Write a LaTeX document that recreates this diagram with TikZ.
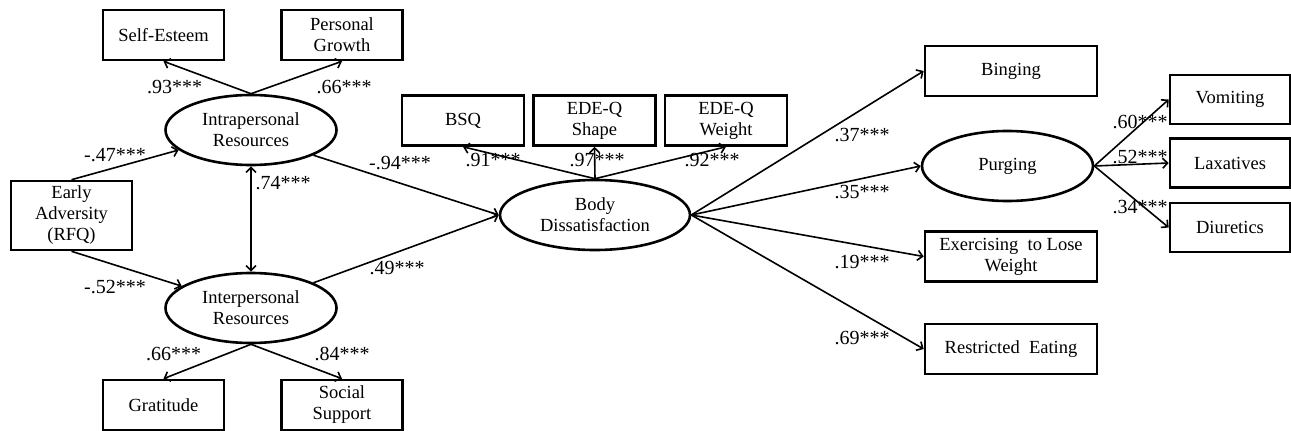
\documentclass[tikz,border=0pt]{standalone}
\usepackage{fontspec}
\setmainfont{Liberation Serif}
\usetikzlibrary{arrows.meta,shapes.geometric}

\begin{document}
\begin{tikzpicture}[x=1pt, y=-1pt,
  >={Straight Barb[length=5pt, width=10pt]},
  box/.style={draw, line width=2.6pt, minimum width=121pt, minimum height=50pt, inner sep=0pt, align=center, font=\fontsize{18.5}{21}\selectfont},
  widebox/.style={box, minimum width=172pt},
  latent/.style={draw, ellipse, line width=2.6pt, minimum width=171pt, minimum height=70pt, inner sep=0pt, align=center, font=\fontsize{18.5}{21}\selectfont},
  path/.style={->, line width=1.6pt},
  coef/.style={inner sep=0pt, font=\fontsize{20}{22}\selectfont}]
\useasboundingbox (0,0) rectangle (1291,431);
%% ------------------------------------------------------------------ left
\node[box] (SE) at (163.5,35) {Self-Esteem};
\node[box] (PG) at (342,35) {Personal\\Growth};
\node[latent] (Intra) at (251,130) {Intrapersonal\\Resources};
\node[box, minimum height=69pt] (EA) at (71.5,215.5) {Early\\Adversity\\(RFQ)};
\node[latent] (Inter) at (251,308) {Interpersonal\\Resources};
\node[box] (Grat) at (163.5,405) {Gratitude};
\node[box] (SS) at (342,405) {Social\\Support};
%% ------------------------------------------------------------------ middle
\node[box, minimum width=122pt] (BSQ) at (463,120.5) {BSQ};
\node[box, minimum width=122pt] (Shape) at (594.5,120.5) {EDE-Q\\Shape};
\node[box, minimum width=122pt] (Weight) at (726,120.5) {EDE-Q\\Weight};
\node[latent, minimum width=190pt] (BD) at (595,215) {Body\\Dissatisfaction};
%% ------------------------------------------------------------------ right
\node[widebox] (Bing) at (1011,71) {Binging};
\node[latent] (Purg) at (1007.5,166) {Purging};
\node[widebox] (Exer) at (1011,256.5) {Exercising~ to Lose\\Weight};
\node[widebox] (Restr) at (1011,349) {Restricted~ Eating};
\node[box, minimum width=120pt, minimum height=49pt] (Vom) at (1230,99.5) {Vomiting};
\node[box, minimum width=120pt, minimum height=49pt] (Lax) at (1230,163) {Laxatives};
\node[box, minimum width=120pt, minimum height=49pt] (Diu) at (1230,227.5) {Diuretics};
% paths
\draw[path] (Intra.north) -- (SE.south);
\draw[path] (Intra.north) -- (PG.south);
\draw[path] (EA.north) -- (Intra);
\draw[path] (EA.south) -- (Inter);
\draw[path, <->] (Intra.south) -- (Inter.north);
\draw[path] (Inter.south) -- (Grat.north);
\draw[path] (Inter.south) -- (SS.north);
\draw[path] (Intra.-22) -- (BD.west);
\draw[path] (Inter.22) -- (BD.west);
\draw[path] (BD.north) -- (BSQ.south);
\draw[path] (BD.north) -- (Shape.south);
\draw[path] (BD.north) -- (Weight.south);
\draw[path] (BD.east) -- (Bing.west);
\draw[path] (BD.east) -- (Purg.west);
\draw[path] (BD.east) -- (Exer.west);
\draw[path] (BD.east) -- (Restr.west);
\draw[path] (Purg.east) -- (Vom.west);
\draw[path] (Purg.east) -- (Lax.west);
\draw[path] (Purg.east) -- (Diu.west);
% coefficients
\node[coef] (c1) at (174.5,87) {.93***};
\node[coef] (c2) at (344,87) {.66***};
\node[coef] (c3) at (115,155) {-.47***};
\node[coef] (c4) at (283,183) {.74***};
\node[coef] (c5) at (115,287) {-.52***};
\node[coef] (c6) at (173.5,354) {.66***};
\node[coef] (c7) at (342,354) {.84***};
\node[coef] (c8) at (400,163) {-.94***};
\node[coef] (c9) at (397,268) {.49***};
\node[coef] (c10) at (493,160) {.91***};
\node[coef] (c11) at (597,160) {.97***};
\node[coef] (c12) at (712,160) {.92***};
\node[coef] (c13) at (862,135) {.37***};
\node[coef] (c14) at (862,192) {.35***};
\node[coef] (c15) at (862,262) {.19***};
\node[coef] (c16) at (862,338) {.69***};
\node[coef] (c17) at (1140,122) {.60***};
\node[coef] (c18) at (1140,157) {.52***};
\node[coef] (c19) at (1140,207) {.34***};
\end{tikzpicture}
\end{document}
